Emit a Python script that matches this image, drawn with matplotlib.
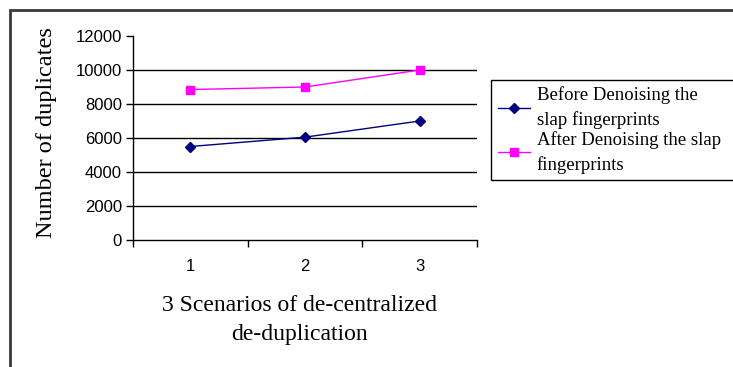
import matplotlib
matplotlib.use("Agg")
import matplotlib.pyplot as plt
from matplotlib.patches import Rectangle

scenarios = [1, 2, 3]
before_denoising = [5500, 6050, 7000]
after_denoising = [8850, 9000, 10000]
y_ticks = [0, 2000, 4000, 6000, 8000, 10000, 12000]

W, H = 733, 367
fig = plt.figure(figsize=(W / 100, H / 100), dpi=100)
fig.patch.set_facecolor("white")

# outer chart frame (runs off the right and bottom edges)
fig.patches.append(Rectangle((10 / W, -0.05), 1.1, 1 - 10 / H + 0.05,
                             transform=fig.transFigure, fill=False,
                             edgecolor="#3a3a3a", linewidth=2))

ax = fig.add_axes([133 / W, 1 - 240 / H, (477 - 133) / W, (240 - 36) / H])
ax.plot(scenarios, before_denoising, color="#000080", marker="D",
        markersize=5, linewidth=1, label="Before Denoising the\nslap fingerprints")
ax.plot(scenarios, after_denoising, color="#FF00FF", marker="s",
        markersize=6, linewidth=1, label="After Denoising the slap\nfingerprints")

ax.set_xlim(0.5, 3.5)
ax.set_ylim(0, 12000)
ax.set_yticks(y_ticks)
ax.set_xticks(scenarios)
ax.set_xticks([0.5, 1.5, 2.5, 3.5], minor=True)
ax.tick_params(axis="x", which="major", length=0, pad=14)
ax.tick_params(axis="x", which="minor", length=5, width=1, direction="out")
ax.tick_params(axis="y", length=5, width=1, direction="out", pad=3)
for lbl in ax.get_xticklabels() + ax.get_yticklabels():
    lbl.set_fontfamily("Liberation Sans")
    lbl.set_fontsize(12)

ax.yaxis.grid(True, color="black", linewidth=1)
ax.get_ygridlines()[-1].set_visible(False)
ax.get_ygridlines()[0].set_visible(False)
ax.set_axisbelow(True)
for side in ("top", "right"):
    ax.spines[side].set_visible(False)
for side in ("left", "bottom"):
    ax.spines[side].set_linewidth(1)

fig.text(47 / W, 1 - 133 / H, "Number of duplicates", rotation=90,
         ha="center", va="center", family="Liberation Serif", fontsize=17.5)
fig.text(299 / W, 1 - 320 / H, "3 Scenarios of de-centralized\nde-duplication",
         ha="center", va="center", family="Liberation Serif", fontsize=17,
         linespacing=1.5)

# legend box continues past the right edge of the chart
fig.patches.append(Rectangle((491 / W, 1 - 180 / H), 0.5, 100 / H,
                             transform=fig.transFigure, fill=False,
                             edgecolor="black", linewidth=1))
leg = fig.legend(loc="upper left", bbox_to_anchor=(491 / W, 1 - 80 / H),
                 prop={"family": "Liberation Serif", "size": 13.5},
                 frameon=False, handlelength=1.75, handletextpad=0.35,
                 borderpad=0.35, labelspacing=0.1, borderaxespad=0)
for t in leg.get_texts():
    t.set_linespacing(1.5)

fig.savefig("out.png", dpi=100)
